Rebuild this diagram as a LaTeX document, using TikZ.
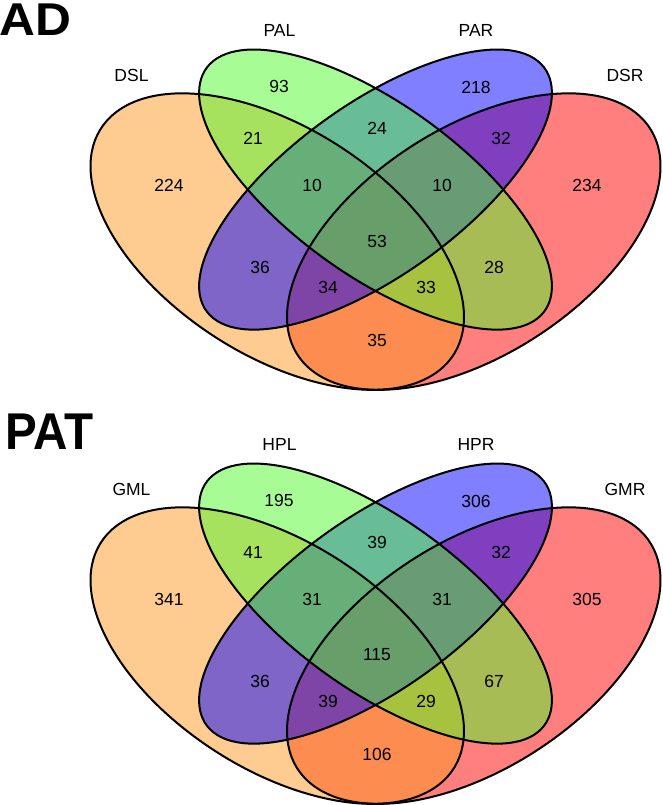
\documentclass[tikz,border=0pt]{standalone}
\usepackage{fontspec}
\setmainfont{Liberation Sans}
\definecolor{vred}{RGB}{255,0,0}
\definecolor{vorange}{RGB}{253,153,35}
\definecolor{vblue}{RGB}{0,0,255}
\definecolor{vgreen}{RGB}{81,249,45}
\newcommand\myquadfills{%
  \fill[setfill=vred, shift={(65,47)}, rotate=45] (0,0) ellipse (35 and 20);
  \fill[setfill=vorange, shift={(35,47)}, rotate=-45] (0,0) ellipse (35 and 20);
  \fill[setfill=vblue, shift={(50,57)}, rotate=45] (0,0) ellipse (35 and 15);
  \fill[setfill=vgreen, shift={(50,57)}, rotate=-45] (0,0) ellipse (35 and 15);
  \draw[setline, shift={(65,47)}, rotate=45] (0,0) ellipse (35 and 20);
  \draw[setline, shift={(35,47)}, rotate=-45] (0,0) ellipse (35 and 20);
  \draw[setline, shift={(50,57)}, rotate=45] (0,0) ellipse (35 and 15);
  \draw[setline, shift={(50,57)}, rotate=-45] (0,0) ellipse (35 and 15);
}
\begin{document}
\begin{tikzpicture}[x=1pt,y=1pt,
  lbl/.style={font=\fontsize{17.5}{20}\selectfont, inner sep=0pt, text=black},
  ttl/.style={font=\bfseries, inner sep=0pt, anchor=base west, text=black},
  setfill/.style={fill=#1, fill opacity=0.5, draw=none},
  setline/.style={draw=black, line width=2pt}]
\useasboundingbox (0,0) rectangle (662,805);

% ---------- AD ----------
\begin{scope}[shift={(48,319)}, xscale=6.55, yscale=5.2]
  \myquadfills
\end{scope}
\node[ttl] (adtitle) at (-0.5,769) {\fontsize{46}{50}\selectfont\scalebox{1.08}[1]{AD}};
\node[lbl] (adDSL) at (131.5,730) {DSL};
\node[lbl] (adPAL) at (279.5,775) {PAL};
\node[lbl] (adPAR) at (476,775) {PAR};
\node[lbl] (adDSR) at (625,730) {DSR};
\node[lbl] (ad93) at (279,719) {93};
\node[lbl] (ad218) at (476,718) {218};
\node[lbl] (ad21) at (253,667) {21};
\node[lbl] (ad24) at (377,677) {24};
\node[lbl] (ad32) at (501,667) {32};
\node[lbl] (ad224) at (169,620) {224};
\node[lbl] (ad10a) at (312,620) {10};
\node[lbl] (ad10b) at (442,620) {10};
\node[lbl] (ad234) at (587,620) {234};
\node[lbl] (ad53) at (377,564) {53};
\node[lbl] (ad36) at (260,538) {36};
\node[lbl] (ad28) at (494,538) {28};
\node[lbl] (ad34) at (328,518) {34};
\node[lbl] (ad33) at (426,518) {33};
\node[lbl] (ad35) at (377,465) {35};

% ---------- PAT ----------
\begin{scope}[shift={(48,-95)}, xscale=6.55, yscale=5.2]
  \myquadfills
\end{scope}
\node[ttl] (pattitle) at (5,355) {\fontsize{51.7}{55}\selectfont\scalebox{0.92}[1]{PAT}};
\node[lbl] (patGML) at (131.5,316) {GML};
\node[lbl] (patHPL) at (279.5,361) {HPL};
\node[lbl] (patHPR) at (476,361) {HPR};
\node[lbl] (patGMR) at (625,316) {GMR};
\node[lbl] (pat195) at (279,305) {195};
\node[lbl] (pat306) at (476,304) {306};
\node[lbl] (pat41) at (253,253) {41};
\node[lbl] (pat39a) at (377,263) {39};
\node[lbl] (pat32) at (501,253) {32};
\node[lbl] (pat341) at (169,206) {341};
\node[lbl] (pat31a) at (312,206) {31};
\node[lbl] (pat31b) at (442,206) {31};
\node[lbl] (pat305) at (587,206) {305};
\node[lbl] (pat115) at (377,150) {115};
\node[lbl] (pat36) at (260,124) {36};
\node[lbl] (pat67) at (494,124) {67};
\node[lbl] (pat39b) at (328,104) {39};
\node[lbl] (pat29) at (426,104) {29};
\node[lbl] (pat106) at (377,51) {106};
\end{tikzpicture}
\end{document}
